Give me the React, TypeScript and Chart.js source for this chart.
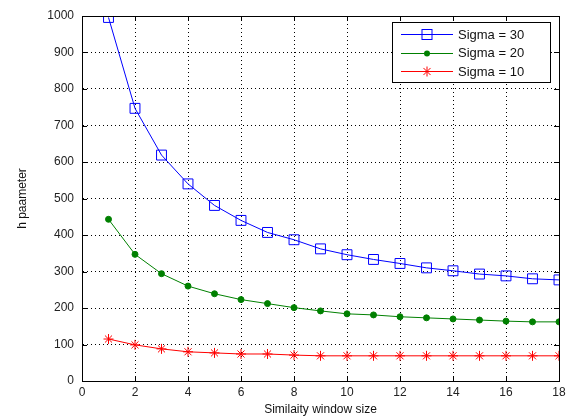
import React, { useEffect, useRef } from "react";
import { Chart, registerables } from "chart.js";
Chart.register(...registerables);

const windowSizes = [1, 2, 3, 4, 5, 6, 7, 8, 9, 10, 11, 12, 13, 14, 15, 16, 17, 18];
const sigma30 = [996, 747, 619, 540, 481, 440, 407, 387, 362, 346, 333, 322, 310, 302, 293, 288, 280, 277];
const sigma20 = [443, 347, 294, 260, 239, 223, 212, 201, 192, 184, 181, 176, 173, 170, 167, 164, 162, 162];
const sigma10 = [115, 99, 88, 80, 77, 74, 74, 71, 69, 69, 69, 69, 69, 69, 69, 69, 69, 69];
const seriesLabels = ["Sigma = 30", "Sigma = 20", "Sigma = 10"];
const xTitle = "Similaity window size";
const yTitle = "h paameter";

const FONT = "'Liberation Sans', Arial, sans-serif";

const framePlugin = {
  id: "frame",
  afterDraw(chart: any) {
    const { ctx, chartArea, scales } = chart;
    const { left, right, top, bottom } = chartArea;
    ctx.save();
    ctx.strokeStyle = "#000";
    ctx.lineWidth = 1;
    ctx.setLineDash([]);
    ctx.strokeRect(Math.round(left) + 0.5, Math.round(top) + 0.5, Math.round(right - left), Math.round(bottom - top));
    const tl = 5;
    ctx.beginPath();
    for (let v = 0; v <= 18; v += 2) {
      const x = Math.round(scales.x.getPixelForValue(v)) + 0.5;
      ctx.moveTo(x, bottom);
      ctx.lineTo(x, bottom - tl);
      ctx.moveTo(x, top);
      ctx.lineTo(x, top + tl);
    }
    for (let v = 0; v <= 1000; v += 100) {
      const y = Math.round(scales.y.getPixelForValue(v)) + 0.5;
      ctx.moveTo(left, y);
      ctx.lineTo(left + tl, y);
      ctx.moveTo(right, y);
      ctx.lineTo(right - tl, y);
    }
    ctx.stroke();

    // legend
    const bx = 392, by = 22, bw = 158, bh = 60;
    ctx.fillStyle = "#fff";
    ctx.fillRect(bx, by, bw, bh);
    ctx.strokeStyle = "#000";
    ctx.strokeRect(bx + 0.5, by + 0.5, bw, bh);
    const rows = [34, 52.5, 71];
    const colors = ["#0000ff", "#008000", "#ff0000"];
    ctx.font = `13px ${FONT}`;
    ctx.textBaseline = "middle";
    rows.forEach((ry, i) => {
      const c = colors[i];
      ctx.strokeStyle = c;
      ctx.lineWidth = 1;
      ctx.beginPath();
      ctx.moveTo(401, Math.round(ry) + 0.5);
      ctx.lineTo(453, Math.round(ry) + 0.5);
      ctx.stroke();
      const mx = 427, my = Math.round(ry) + 0.5;
      if (i === 0) {
        ctx.strokeRect(mx - 5, my - 5, 10, 10);
      } else if (i === 1) {
        ctx.fillStyle = c;
        ctx.beginPath();
        ctx.arc(mx, my, 3, 0, Math.PI * 2);
        ctx.fill();
      } else {
        ctx.beginPath();
        const r = 5;
        for (let k = 0; k < 4; k++) {
          const a = (k * Math.PI) / 4;
          ctx.moveTo(mx - r * Math.cos(a), my - r * Math.sin(a));
          ctx.lineTo(mx + r * Math.cos(a), my + r * Math.sin(a));
        }
        ctx.stroke();
      }
      ctx.fillStyle = "#111";
      ctx.textAlign = "left";
      ctx.fillText(seriesLabels[i], 458, ry + 1);
    });
    ctx.restore();
  },
};

export default function App() {
  const ref = useRef<HTMLCanvasElement | null>(null);
  useEffect(() => {
    document.body.style.margin = "0";
    const canvas = ref.current!;
    const mk = (vals: number[]) => windowSizes.map((x, i) => ({ x, y: vals[i] }));
    const chart = new Chart(canvas, {
      type: "line",
      data: {
        datasets: [
          {
            label: seriesLabels[0],
            data: mk(sigma30),
            borderColor: "#0000ff",
            backgroundColor: "rgba(0,0,0,0)",
            borderWidth: 1,
            pointStyle: "rect",
            pointRadius: 7,
            pointBorderWidth: 1,
            pointBorderColor: "#0000ff",
            pointBackgroundColor: "rgba(0,0,0,0)",
            tension: 0,
          },
          {
            label: seriesLabels[1],
            data: mk(sigma20),
            borderColor: "#008000",
            backgroundColor: "#008000",
            borderWidth: 1,
            pointStyle: "circle",
            pointRadius: 3,
            pointBorderWidth: 1,
            pointBorderColor: "#008000",
            pointBackgroundColor: "#008000",
            tension: 0,
          },
          {
            label: seriesLabels[2],
            data: mk(sigma10),
            borderColor: "#ff0000",
            backgroundColor: "#ff0000",
            borderWidth: 1,
            pointStyle: "star",
            pointRadius: 5,
            pointBorderWidth: 1,
            pointBorderColor: "#ff0000",
            tension: 0,
          },
        ],
      },
      options: {
        animation: false,
        responsive: false,
        maintainAspectRatio: false,
        layout: { padding: { top: 16, right: 17, left: 0, bottom: 0 } },
        plugins: { legend: { display: false }, tooltip: { enabled: false } },
        scales: {
          x: {
            type: "linear",
            min: 0,
            max: 18,
            afterFit: (s: any) => { s.height = 36; },
            ticks: { stepSize: 2, padding: 4, color: "#222", font: { family: FONT, size: 12 }, maxRotation: 0, callback: (v: any) => String(v) },
            grid: { color: "#000", lineWidth: 1, drawTicks: false },
            border: { display: true, color: "#000", dash: [1, 3] },
            title: { display: true, text: xTitle, color: "#111", font: { family: FONT, size: 12 }, padding: { top: 0, bottom: 0 } },
          },
          y: {
            type: "linear",
            min: 0,
            max: 1000,
            afterFit: (s: any) => { s.width = 82; },
            ticks: { stepSize: 100, padding: 8, color: "#222", font: { family: FONT, size: 12 }, callback: (v: any) => String(v) },
            grid: { color: "#000", lineWidth: 1, drawTicks: false },
            border: { display: true, color: "#000", dash: [1, 3] },
            title: { display: true, text: yTitle, color: "#111", font: { family: FONT, size: 12 }, padding: { top: 15, bottom: 0 } },
          },
        },
      },
      plugins: [framePlugin],
    });
    return () => chart.destroy();
  }, []);
  return (
    <div style={{ width: 576, height: 417 }}>
      <canvas ref={ref} width={576} height={417} style={{ display: "block" }} />
    </div>
  );
}
